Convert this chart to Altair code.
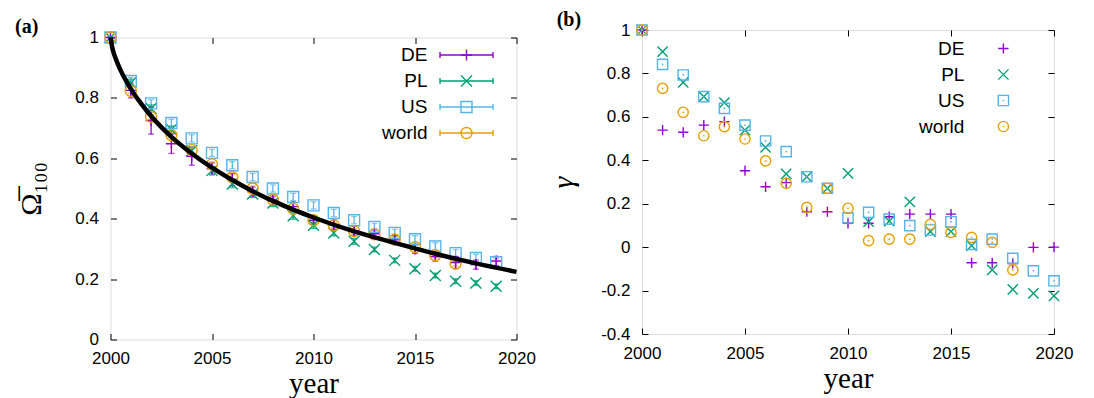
import altair as alt
import pandas as pd

series = ["DE", "PL", "US", "world"]
colors = ["#9400d3", "#009e73", "#56b4e9", "#e69f00"]

# ---------------- panel (a): Omega_100 ----------------
years_a = list(range(2000, 2020))
omega_DE = [1.0, 0.825, 0.725, 0.648, 0.607, 0.565, 0.53, 0.49, 0.46, 0.44, 0.395, 0.38,
            0.36, 0.35, 0.33, 0.30, 0.275, 0.255, 0.248, 0.26]
omega_DE_err = [0.0, 0.025, 0.045, 0.032, 0.03, 0.02, 0.02, 0.015, 0.015, 0.015, 0.015, 0.015,
                0.015, 0.015, 0.015, 0.015, 0.015, 0.02, 0.015, 0.015]
omega_PL = [1.0, 0.85, 0.765, 0.695, 0.625, 0.56, 0.515, 0.482, 0.452, 0.41, 0.378, 0.353,
            0.325, 0.298, 0.262, 0.234, 0.212, 0.193, 0.187, 0.176]
omega_PL_err = [0.0, 0.012, 0.012, 0.012, 0.012, 0.012, 0.012, 0.012, 0.012, 0.012, 0.01, 0.01,
                0.01, 0.008, 0.008, 0.008, 0.008, 0.008, 0.008, 0.008]
omega_US = [1.0, 0.856, 0.782, 0.717, 0.666, 0.618, 0.577, 0.538, 0.50, 0.472, 0.444, 0.419,
            0.395, 0.373, 0.353, 0.332, 0.308, 0.286, 0.270, 0.256]
omega_US_err = [0.0, 0.012, 0.012, 0.012, 0.012, 0.012, 0.012, 0.012, 0.012, 0.012, 0.012, 0.012,
                0.012, 0.012, 0.012, 0.012, 0.012, 0.012, 0.012, 0.012]
omega_world = [1.0, 0.823, 0.737, 0.677, 0.627, 0.58, 0.538, 0.50, 0.463, 0.433, 0.395, 0.378,
               0.359, 0.348, 0.331, 0.306, 0.279, 0.251]
omega_world_err = [0.0, 0.008, 0.008, 0.008, 0.008, 0.008, 0.008, 0.008, 0.008, 0.008, 0.008, 0.008,
                   0.008, 0.008, 0.008, 0.008, 0.008, 0.008]

fit_year = [2000, 2000.1, 2000.25, 2000.5, 2001, 2001.5, 2002, 2003, 2004, 2005, 2006, 2007,
            2008, 2009, 2010, 2012, 2014, 2016, 2018, 2020]
fit_val = [1.0, 0.963, 0.931, 0.891, 0.830, 0.782, 0.740, 0.671, 0.616, 0.569, 0.528, 0.491,
           0.459, 0.430, 0.404, 0.358, 0.320, 0.284, 0.252, 0.224]

# ---------------- panel (b): gamma ----------------
years_b = list(range(2000, 2021))
gamma_DE = [1.0, 0.539, 0.529, 0.562, 0.578, 0.352, 0.278, 0.297, 0.163, 0.163, 0.11, 0.11,
            0.14, 0.152, 0.152, 0.152, -0.072, -0.072, -0.075, -0.001, 0.0]
gamma_PL = [1.0, 0.90, 0.759, 0.693, 0.665, 0.539, 0.46, 0.337, 0.324, 0.271, 0.34, 0.117,
            0.12, 0.209, 0.071, 0.071, 0.007, -0.105, -0.195, -0.213, -0.224]
gamma_US = [1.0, 0.842, 0.793, 0.693, 0.639, 0.562, 0.489, 0.44, 0.324, 0.271, 0.135, 0.16,
            0.129, 0.099, 0.079, 0.117, 0.013, 0.037, -0.052, -0.109, -0.155]
gamma_world = [1.0, 0.731, 0.621, 0.513, 0.555, 0.498, 0.397, 0.294, 0.183, 0.271, 0.179, 0.03,
               0.037, 0.037, 0.105, 0.068, 0.045, 0.022, -0.105]

xticks = [2000, 2005, 2010, 2015, 2020]
yticks_a = [0, 0.2, 0.4, 0.6, 0.8, 1]
yticks_b = [-0.4, -0.2, 0, 0.2, 0.4, 0.6, 0.8, 1]

# ---------------- tables ----------------
rows_a = []
for s, vals, errs in [("DE", omega_DE, omega_DE_err), ("PL", omega_PL, omega_PL_err),
                      ("US", omega_US, omega_US_err), ("world", omega_world, omega_world_err)]:
    for i, (v, e) in enumerate(zip(vals, errs)):
        rows_a.append(dict(series=s, year=years_a[i], val=v, lo=v - e, hi=v + e))
dfa = pd.DataFrame(rows_a)

rows_b = []
for s, vals in [("DE", gamma_DE), ("PL", gamma_PL), ("US", gamma_US), ("world", gamma_world)]:
    for i, v in enumerate(vals):
        rows_b.append(dict(series=s, year=years_b[i], val=v))
dfb = pd.DataFrame(rows_b)

dfit = pd.DataFrame({"year": fit_year, "val": fit_val})
leg = pd.DataFrame({"series": series, "idx": list(range(len(series)))})
one = pd.DataFrame({"k": [0]})

PLUS = "M-1,0L1,0M0,-1L0,1"
CROSS = "M-1,-1L1,1M-1,1L1,-1"
cscale = alt.Scale(domain=series, range=colors)
sscale = alt.Scale(domain=series, range=[PLUS, CROSS, "square", "circle"])
color = alt.Color("series:N", scale=cscale, legend=None)
shape = alt.Shape("series:N", scale=sscale, legend=None)

LABEL_FONT = "Liberation Sans"
SERIF = "Liberation Serif"


def common_axis(**kw):
    base = dict(offset=-6, tickSize=6, domain=False, grid=False, labelFlush=False,
                labelOverlap=False, labelFontSize=17, labelFont=LABEL_FONT,
                labelColor="black", tickColor="black", tickWidth=1)
    base.update(kw)
    return alt.Axis(**base)


def panel(df, yticks, ydomain, W, H, ytitle, ytitle_font_style, ytitle_size, ytitle_pad,
          with_err, msize, leg_rows0, leg_text_x, leg_marker_x, leg_line, tag, tag_x, tag_y):
    xs = alt.Scale(domain=[2000, 2020], nice=False, zero=False)
    ys = alt.Scale(domain=ydomain, nice=False, zero=False)
    X = lambda f="year": alt.X(f + ":Q", scale=xs, axis=None)
    Y = lambda f="val": alt.Y(f + ":Q", scale=ys, axis=None)

    x_bottom = common_axis(values=xticks, format="d", orient="bottom", labelPadding=11,
                           title="year", titleFont=SERIF, titleFontSize=29,
                           titleFontWeight="normal", titleColor="black", titlePadding=3)
    y_left = common_axis(values=yticks, labelExpr="toString(datum.value)", orient="left",
                         labelPadding=12, title=ytitle, titleFont=SERIF, titleFontSize=ytitle_size,
                         titleFontWeight="normal", titleFontStyle=ytitle_font_style,
                         titleColor="black", titlePadding=ytitle_pad)
    x_top = common_axis(values=xticks, orient="top", labels=False, title="")
    y_right = common_axis(values=yticks, orient="right", labels=False, title="")

    axes_layer = alt.Chart(df).mark_point(opacity=0).encode(
        x=alt.X("year:Q", scale=xs, axis=x_bottom),
        y=alt.Y("val:Q", scale=ys, axis=y_left))
    mirror_layer = alt.Chart(df).mark_point(opacity=0).encode(
        x=alt.X("year:Q", scale=xs, axis=x_top),
        y=alt.Y("val:Q", scale=ys, axis=y_right))

    layers = [axes_layer, mirror_layer]
    if with_err:
        layers.append(alt.Chart(df).mark_rule(strokeWidth=1.3).encode(
            x=X(), y=Y("lo"), y2="hi:Q", color=color))
        for f in ["lo", "hi"]:
            layers.append(alt.Chart(df).mark_tick(orient="horizontal", size=6, thickness=1.3).encode(
                x=X(), y=Y(f), color=color))
    layers.append(alt.Chart(df).mark_point(filled=False, size=msize, strokeWidth=1.4, opacity=1).encode(
        x=X(), y=Y(), color=color, shape=shape))
    if not with_err:
        layers.append(alt.Chart(df).transform_filter(
            alt.FieldOneOfPredicate(field="series", oneOf=["US", "world"])
        ).mark_point(filled=True, size=3, shape="circle", opacity=1).encode(
            x=X(), y=Y(), color=color))
    if with_err:
        layers.append(alt.Chart(dfit).mark_line(color="black", strokeWidth=4.5,
                                                interpolate="monotone").encode(x=X(), y=Y()))

    # legend (inside, top-right)
    lb = alt.Chart(leg).transform_calculate(
        ly=f"{leg_rows0} + 26*datum.idx",
        ly1=f"{leg_rows0 - 3} + 26*datum.idx",
        ly2=f"{leg_rows0 + 3} + 26*datum.idx")
    LY = alt.Y("ly:Q", scale=None, axis=None)
    layers.append(lb.mark_text(align="right", baseline="middle", font=LABEL_FONT, fontSize=19,
                               color="black").encode(x=alt.value(leg_text_x), y=LY, text="series:N"))
    if leg_line:
        x1, x2 = leg_line
        layers.append(lb.mark_rule(strokeWidth=1.4).encode(
            x=alt.value(x1), x2=alt.value(x2), y=LY, color=color))
        for xv in (x1, x2):
            layers.append(lb.mark_rule(strokeWidth=1.4).encode(
                x=alt.value(xv), y=alt.Y("ly1:Q", scale=None, axis=None), y2="ly2:Q", color=color))
    layers.append(lb.mark_point(filled=False, size=msize, strokeWidth=1.4, opacity=1).encode(
        x=alt.value(leg_marker_x), y=LY, color=color, shape=shape))
    if not leg_line:
        layers.append(lb.transform_filter(
            alt.FieldOneOfPredicate(field="series", oneOf=["US", "world"])
        ).mark_point(filled=True, size=3, shape="circle", opacity=1).encode(
            x=alt.value(leg_marker_x), y=LY, color=color))

    layers.append(alt.Chart(one).mark_text(text=tag, align="left", baseline="alphabetic", font=SERIF,
                                           fontWeight="bold", fontSize=20, color="black").encode(
        x=alt.value(tag_x), y=alt.value(tag_y)))

    return alt.layer(*layers).resolve_axis(x="independent", y="independent").properties(
        width=W, height=H)


pa = panel(dfa, yticks_a, [0, 1], 406, 302, "\u03a9\u0305\u2081\u2080\u2080", "normal", 30, 28,
           True, 121, 17.5, 317, 356, (329.5, 382.5), "(a)", -95.5, -4.5)
pb = panel(dfb, yticks_b, [-0.4, 1], 412, 304, "\u03b3", "italic", 30, 22,
           False, 105, 18.5, 322.4, 361.4, None, "(b)", -85.3, -4)

spacer = alt.Chart(one).mark_point(opacity=0).encode(
    x=alt.value(0), y=alt.value(0)).properties(
    width=406, height=1, view=alt.ViewBackground(stroke="transparent"))

left = alt.vconcat(spacer, pa, spacing=6.5, bounds="flush")

chart = alt.hconcat(left, pb, spacing=11.5).configure_view(
    stroke="#222", strokeWidth=1.2).configure(
    background="white", padding={"left": 6.5, "top": 1, "right": 5, "bottom": 5})

chart.save("out.html", embed_options={"renderer": "svg", "actions": False})
